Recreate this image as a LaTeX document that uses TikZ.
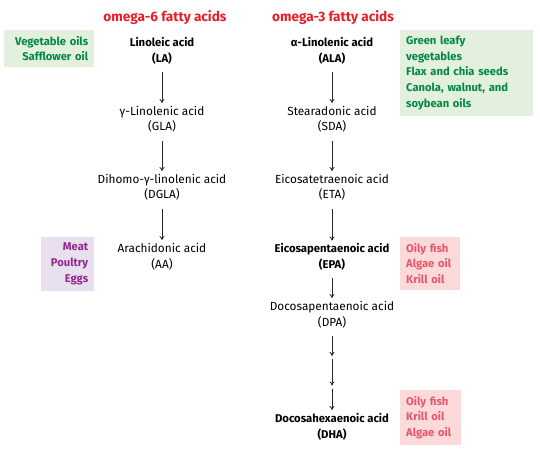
\documentclass[tikz,border=0pt]{standalone}
\usepackage{fontspec}
\setmainfont{Fira Sans}
\usetikzlibrary{arrows.meta}
\definecolor{titlered}{RGB}{230,30,40}
\definecolor{srcgreen}{RGB}{0,135,65}
\definecolor{bggreen}{RGB}{228,240,222}
\definecolor{srcpurple}{RGB}{145,40,140}
\definecolor{bgpurple}{RGB}{232,224,238}
\definecolor{srcpink}{RGB}{232,85,105}
\definecolor{bgpink}{RGB}{252,218,218}
\tikzset{
  acid/.style={align=center, font=\fontsize{11.8}{15.5}\selectfont, inner xsep=1pt, inner ysep=2pt},
  keyacid/.style={acid, font=\fontsize{11.3}{15.5}\selectfont\bfseries},
  ttl/.style={text=titlered, font=\fontsize{13.6}{15}\selectfont\bfseries},
  arr/.style={-{To[length=4pt,width=5pt]}, line width=0.8pt, black!85, shorten <=6pt, shorten >=1pt},
  arrm/.style={-{To[length=4pt,width=5pt]}, line width=0.8pt, black!85, shorten <=1.5pt, shorten >=1.5pt},
  src/.style={font=\fontsize{11.2}{15.6}\selectfont\bfseries, inner xsep=6pt, inner ysep=6pt, anchor=north west},
  srcg/.style={src, fill=bggreen, text=srcgreen},
  srcv/.style={src, fill=bgpurple, text=srcpurple},
  srcp/.style={src, fill=bgpink, text=srcpink},
}
\begin{document}
\begin{tikzpicture}[x=1pt,y=-1pt]
\useasboundingbox[fill=white] (0,0) rectangle (540,452);
% titles
\node[ttl] (t6) at (165,17) {omega-6 fatty acids};
\node[ttl] (t3) at (333,17) {omega-3 fatty acids};
% omega-6 column
\node[keyacid] (la) at (162,51) {Linoleic acid\\(LA)};
\node[acid] (gla) at (162,119.5) {γ-Linolenic acid\\(GLA)};
\node[acid] (dgla) at (162,187.5) {Dihomo-γ-linolenic acid\\(DGLA)};
\node[acid] (aa) at (162,256.5) {Arachidonic acid\\(AA)};
% omega-3 column
\node[keyacid] (ala) at (332,51) {α-Linolenic acid\\(ALA)};
\node[acid] (sda) at (332,119.5) {Stearadonic acid\\(SDA)};
\node[acid] (eta) at (332,187.5) {Eicosatetraenoic acid\\(ETA)};
\node[keyacid] (epa) at (332,257) {Eicosapentaenoic acid\\(EPA)};
\node[acid] (dpa) at (332,314.5) {Docosapentaenoic acid\\(DPA)};
\node[keyacid] (dha) at (332,427) {Docosahexaenoic acid\\(DHA)};
\coordinate (m1) at (332,357);
\coordinate (m2) at (332,387);
% arrows
\draw[arr] (la) -- (gla);
\draw[arr] (gla) -- (dgla);
\draw[arr] (dgla) -- (aa);
\draw[arr] (ala) -- (sda);
\draw[arr] (sda) -- (eta);
\draw[arr] (eta) -- (epa);
\draw[arr] (epa) -- (dpa);
\draw[arr] (dpa) -- (m1);
\draw[arrm] (m1) -- (m2);
\draw[arrm] (m2) -- (dha);
% sources
\node[srcg, align=right, text width=78pt] (s1) at (4,30) {Vegetable oils\\Safflower oil};
\node[srcv, align=right, text width=41pt] (s2) at (41,237) {Meat\\Poultry\\Eggs};
\node[srcg, align=left, text width=121pt] (s3) at (400,30) {Green leafy\\vegetables\\Flax and chia seeds\\Canola, walnut, and\\soybean oils};
\node[srcp, align=left, text width=48pt] (s4) at (400,237) {Oily fish\\Algae oil\\Krill oil};
\node[srcp, align=left, text width=49pt] (s5) at (400,390) {Oily fish\\Krill oil\\Algae oil};
\end{tikzpicture}
\end{document}
